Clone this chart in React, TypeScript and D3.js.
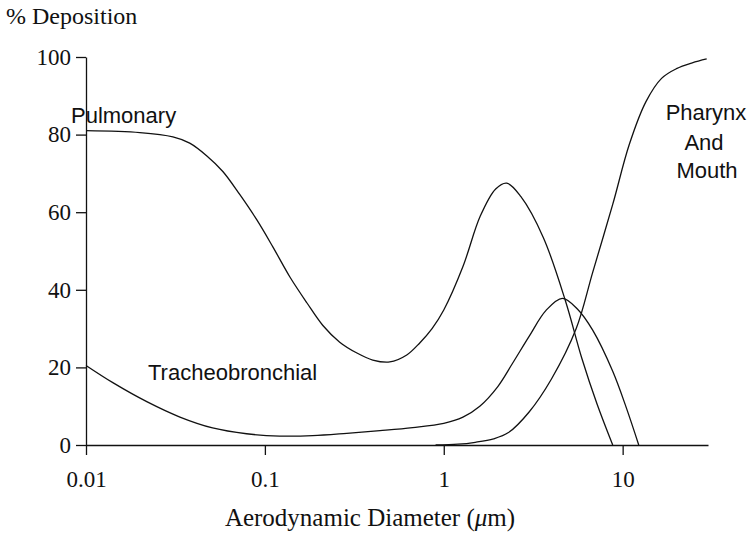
import React, { useEffect, useRef } from 'react'
import * as d3 from 'd3'

// Deposition fraction (%) vs aerodynamic diameter (um)
const pulmonaryDiam = [0.01, 0.02, 0.0306, 0.038, 0.0474, 0.0582, 0.0725, 0.0902, 0.111, 0.138, 0.172, 0.211, 0.262, 0.327, 0.401, 0.499, 0.621, 0.734, 0.86, 1.0, 1.28, 1.6, 1.95, 2.25, 2.7, 3.6, 4.8, 5.9, 7.2, 8.8]
const pulmonaryPct = [81, 80.5, 79.4, 77.8, 74.5, 70.5, 64.5, 58, 51, 43.3, 36.6, 30.8, 26.5, 23.7, 21.9, 21.4, 23.2, 26.3, 30, 34.8, 46, 59, 66, 67.5, 64, 53.5, 37, 22.5, 10.5, 0]

const tracheoDiam = [0.01, 0.0142, 0.022, 0.0335, 0.051, 0.079, 0.121, 0.185, 0.287, 0.44, 0.67, 1.0, 1.28, 1.59, 2.0, 2.42, 3.0, 3.73, 4.6, 5.6, 6.8, 8.8, 10.5, 12.3]
const tracheoPct = [20.5, 16, 11.1, 7.2, 4.4, 2.9, 2.3, 2.4, 3.0, 3.7, 4.5, 5.6, 7.2, 10, 15, 21, 28, 34.7, 37.8, 35, 29.6, 19, 9.5, 0]

const pharynxDiam = [0.9, 1.2, 1.5, 1.9, 2.3, 3.0, 4.0, 5.5, 6.8, 8.8, 10.9, 13.5, 16.5, 20, 24.5, 29.5]
const pharynxPct = [0, 0.2, 0.7, 1.6, 3.2, 8.5, 17, 30, 44.5, 62, 77.5, 88.5, 94.5, 97, 98.5, 99.5]

const xTicks = [0.01, 0.1, 1, 10]
const yTicks = [0, 20, 40, 60, 80, 100]

const serif = '"Liberation Serif", "Times New Roman", serif'
const sans = '"Liberation Sans", Arial, sans-serif'

const App: React.FC = () => {
  const svgRef = useRef<SVGSVGElement>(null)

  useEffect(() => {
    if (!svgRef.current) return
    const svg = d3.select(svgRef.current)
    svg.selectAll('*').remove()

    const x = d3.scaleLog().domain([0.01, 30]).range([86, 708])
    const y = d3.scaleLinear().domain([0, 100]).range([445, 57])

    // Axes
    const xAxis = d3.axisBottom(x)
      .tickValues(xTicks)
      .tickSize(10)
      .tickSizeOuter(0)
      .tickPadding(16)
      .tickFormat(d => String(d))

    const yAxis = d3.axisLeft(y)
      .tickValues(yTicks)
      .tickSize(10)
      .tickSizeOuter(0)
      .tickPadding(5)

    const gx = svg.append('g').attr('transform', 'translate(0,445)').call(xAxis as any)
    const gy = svg.append('g').attr('transform', 'translate(86,0)').call(yAxis as any)

    ;[gx, gy].forEach(g => {
      g.selectAll('path, line').attr('stroke', '#111').attr('stroke-width', 1.3)
      g.selectAll('text')
        .attr('font-family', serif)
        .attr('font-size', 23)
        .attr('fill', '#111')
    })

    // Curves
    const line = d3.line<[number, number]>()
      .x(d => x(d[0]))
      .y(d => y(d[1]))
      .curve(d3.curveCatmullRom.alpha(0.5))

    const series: [number[], number[]][] = [
      [pulmonaryDiam, pulmonaryPct],
      [tracheoDiam, tracheoPct],
      [pharynxDiam, pharynxPct]
    ]

    series.forEach(([ds, ps]) => {
      svg.append('path')
        .datum(ds.map((d, i) => [d, ps[i]] as [number, number]))
        .attr('d', line)
        .attr('fill', 'none')
        .attr('stroke', '#111')
        .attr('stroke-width', 1.3)
    })

    // Curve labels
    const label = (t: string, px: number, py: number, anchor = 'start') =>
      svg.append('text')
        .text(t)
        .attr('x', px)
        .attr('y', py)
        .attr('text-anchor', anchor)
        .attr('font-family', sans)
        .attr('font-size', 22)
        .attr('fill', '#111')

    label('Pulmonary', 71, 123)
    label('Tracheobronchial', 148, 380)
    label('Pharynx', 706, 120, 'middle')
    label('And', 704, 150, 'middle')
    label('Mouth', 707, 178, 'middle')

    // Axis titles
    svg.append('text')
      .text('% Deposition')
      .attr('x', 6)
      .attr('y', 24)
      .attr('font-family', serif)
      .attr('font-size', 24)
      .attr('fill', '#111')

    const xt = svg.append('text')
      .attr('x', 370)
      .attr('y', 526)
      .attr('text-anchor', 'middle')
      .attr('font-family', serif)
      .attr('font-size', 25)
      .attr('fill', '#111')
    xt.append('tspan').text('Aerodynamic Diameter (')
    xt.append('tspan').attr('font-style', 'italic').text('μ')
    xt.append('tspan').text('m)')
  }, [])

  return (
    <svg
      ref={svgRef}
      width={750}
      height={534}
      style={{ position: 'absolute', left: 0, top: 0, background: '#fff' }}
    />
  )
}

export default App
